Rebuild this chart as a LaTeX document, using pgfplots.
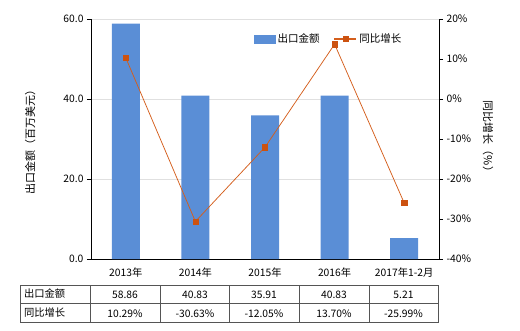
\documentclass[border=0pt]{standalone}
\usepackage{fontspec}
\setmainfont{Noto Sans CJK SC}
\usepackage{pgfplots}
\pgfplotsset{compat=1.18}
\definecolor{barblue}{HTML}{5A8ED6}
\definecolor{lineor}{HTML}{D45E1C}
\definecolor{markor}{HTML}{CC5210}
\definecolor{gridgray}{HTML}{E0E0E0}
\definecolor{tabline}{HTML}{555555}
\begin{document}
\begin{tikzpicture}[font=\fontsize{10.3}{12}\selectfont]
\path[use as bounding box] (0,0) rectangle (520pt,-330pt);
% left axis with bars
\begin{axis}[
  at={(91pt,-259pt)}, anchor=south west,
  scale only axis, width=348pt, height=240pt,
  xmin=-0.5, xmax=4.5, ymin=0, ymax=60,
  axis x line*=bottom, axis y line*=left,
  xtick={0,1,2,3,4},
  xticklabels={2013年,2014年,2015年,2016年,2017年1-2月},
  x tick style={draw=none},
  xticklabel style={yshift=-1pt},
  ytick={0,20,40,60},
  yticklabel style={/pgf/number format/.cd,fixed,fixed zerofill,precision=1,assume math mode=true},
  y tick style={black},
  major tick length=4pt,
  tick align=outside,
  ymajorgrids, grid style={gridgray, line width=0.6pt},
  axis line style={black, line width=0.6pt},
  ylabel={出口金额（百万美元）},
  ylabel style={font=\fontsize{11}{13}\selectfont, at={(axis description cs:-0.175,0.5)}, anchor=center},
  tick label style={font=\fontsize{10.3}{12}\selectfont},
]
\addplot[ybar, bar width=28pt, fill=barblue, draw=none] coordinates {(0,58.86) (1,40.83) (2,35.91) (3,40.83) (4,5.21)};
\end{axis}
% right axis with line
\begin{axis}[
  at={(91pt,-259pt)}, anchor=south west,
  scale only axis, width=348pt, height=240pt,
  xmin=-0.5, xmax=4.5, ymin=-40, ymax=20,
  hide x axis,
  axis y line*=right,
  ytick={-40,-30,...,20},
  yticklabel={\pgfmathprintnumber[assume math mode=true]{\tick}\%},
  y tick style={black},
  major tick length=4pt,
  tick align=outside,
  axis line style={black, line width=0.6pt},
  ylabel={同比增长（\%）},
  ylabel style={font=\fontsize{11}{13}\selectfont, rotate=180, at={(axis description cs:1.141,0.5)}, anchor=center},
  tick label style={font=\fontsize{10.3}{12}\selectfont},
  legend style={draw=none, fill=none, at={(0.46,0.955)}, anchor=north west, legend columns=2,
    font=\fontsize{10.5}{12}\selectfont, /tikz/every even column/.append style={column sep=12pt}},
]
\addlegendimage{legend image code/.code={\fill[barblue] (0pt,-4pt) rectangle (21pt,4pt);}}
\addlegendentry{出口金额}
\addplot[lineor, line width=0.75pt, mark=square*, mark size=2.6pt, mark options={fill=markor, draw=markor, line width=0.3pt},
  legend image code/.code={\draw[lineor, line width=1.6pt] (0pt,0pt) -- (22pt,0pt); \fill[markor] (8.5pt,-2.6pt) rectangle (13.7pt,2.6pt);}]
  coordinates {(0,10.29) (1,-30.63) (2,-12.05) (3,13.70) (4,-25.99)};
\addlegendentry{同比增长}
\end{axis}
% data table
\begin{scope}[draw=tabline, line width=0.6pt]
\draw (20pt,-285pt) rectangle (438pt,-322pt);
\draw (20pt,-303.5pt) -- (438pt,-303.5pt);
\foreach \x in {90,160,229,299,369} {\draw (\x pt,-285pt) -- (\x pt,-322pt);}
\end{scope}
\node[anchor=west] at (20.5pt,-294pt) {出口金额};
\node[anchor=west] at (20.5pt,-312.5pt) {同比增长};
\foreach \x/\a/\b in {125/58.86/10.29\%,195/40.83/-30.63\%,264/35.91/-12.05\%,334/40.83/13.70\%,403.5/5.21/-25.99\%} {
  \node at (\x pt,-295pt) {\a};
  \node at (\x pt,-313.5pt) {\b};
}
\end{tikzpicture}
\end{document}
